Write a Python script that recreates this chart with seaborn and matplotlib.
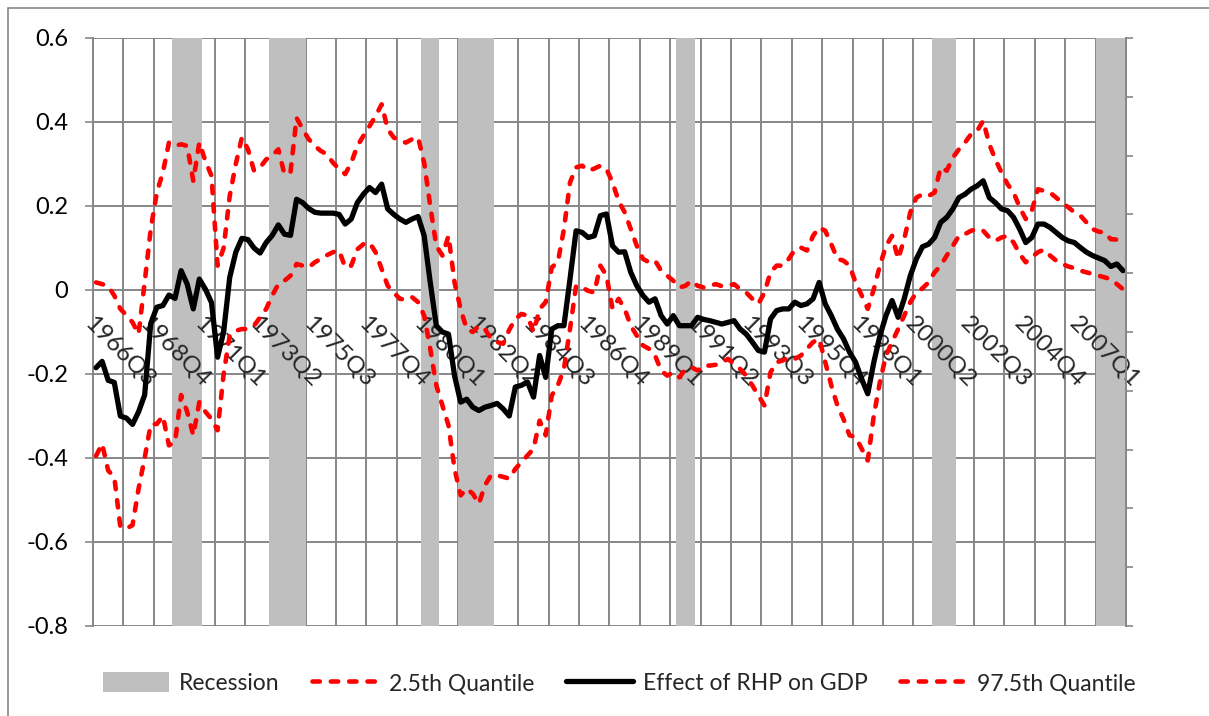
import numpy as np
import pandas as pd
import matplotlib.pyplot as plt
import seaborn as sns
from matplotlib.patches import Patch, Rectangle
from matplotlib.lines import Line2D
from matplotlib.ticker import FixedLocator, NullFormatter

# quarterly categories 1966Q3 .. 2008Q4 (170 quarters)
n_q = 170
quarters = [f"{1966 + (i + 2) // 4}Q{(i + 2) % 4 + 1}" for i in range(n_q)]

# effect of RHP on GDP (median)
effect = [
    -0.185, -0.17, -0.215, -0.22, -0.30, -0.305, -0.32, -0.29, -0.25, -0.08,
    -0.041, -0.037, -0.012, -0.02, 0.046, 0.014, -0.045, 0.026, 0.002, -0.03,
    -0.16, -0.10, 0.03, 0.09, 0.123, 0.12, 0.10, 0.088, 0.113, 0.13,
    0.155, 0.133, 0.13, 0.216, 0.208, 0.194, 0.185, 0.183, 0.183, 0.183,
    0.18, 0.157, 0.169, 0.208, 0.228, 0.244, 0.232, 0.252, 0.193, 0.18,
    0.169, 0.161, 0.169, 0.175, 0.129, 0.018, -0.085, -0.10, -0.105, -0.204,
    -0.267, -0.26, -0.279, -0.287, -0.279, -0.275, -0.27, -0.283, -0.30, -0.231,
    -0.227, -0.219, -0.255, -0.156, -0.208, -0.093, -0.085, -0.085, 0.026, 0.141,
    0.137, 0.125, 0.129, 0.177, 0.181, 0.105, 0.09, 0.091, 0.042, 0.01,
    -0.013, -0.029, -0.021, -0.061, -0.081, -0.061, -0.085, -0.085, -0.085, -0.065,
    -0.07, -0.073, -0.077, -0.081, -0.077, -0.073, -0.093, -0.105, -0.124, -0.144,
    -0.148, -0.069, -0.049, -0.045, -0.045, -0.029, -0.037, -0.033, -0.021, 0.018,
    -0.033, -0.061, -0.093, -0.116, -0.148, -0.172, -0.212, -0.247, -0.172, -0.109,
    -0.061, -0.025, -0.065, -0.021, 0.034, 0.074, 0.103, 0.109, 0.125, 0.161,
    0.173, 0.193, 0.22, 0.228, 0.24, 0.248, 0.26, 0.22, 0.208, 0.193,
    0.189, 0.173, 0.145, 0.113, 0.125, 0.157, 0.157, 0.149, 0.137, 0.125,
    0.117, 0.113, 0.101, 0.09, 0.082, 0.076, 0.07, 0.056, 0.062, 0.046,
]

# 97.5th quantile
upper = [
    0.018, 0.014, 0.009, -0.013, -0.045, -0.06, -0.077, -0.105, 0.018, 0.145,
    0.232, 0.28, 0.351, 0.343, 0.347, 0.343, 0.26, 0.351, 0.307, 0.272,
    0.058, 0.10, 0.224, 0.30, 0.363, 0.335, 0.284, 0.292, 0.311, 0.32,
    0.335, 0.276, 0.28, 0.41, 0.383, 0.359, 0.343, 0.331, 0.323, 0.303,
    0.288, 0.276, 0.303, 0.343, 0.367, 0.39, 0.414, 0.442, 0.383, 0.363,
    0.355, 0.351, 0.359, 0.363, 0.303, 0.20, 0.105, 0.082, 0.129, 0.018,
    -0.045, -0.093, -0.10, -0.085, -0.093, -0.116, -0.124, -0.128, -0.095, -0.069,
    -0.057, -0.061, -0.10, -0.045, -0.029, 0.054, 0.066, 0.145, 0.256, 0.292,
    0.296, 0.284, 0.289, 0.296, 0.288, 0.256, 0.212, 0.185, 0.145, 0.105,
    0.074, 0.066, 0.07, 0.046, 0.034, 0.022, 0.006, 0.01, 0.022, 0.01,
    0.006, 0.01, 0.014, 0.009, 0.01, 0.014, 0.002, -0.006, -0.021, -0.033,
    -0.006, 0.042, 0.058, 0.058, 0.074, 0.096, 0.101, 0.094, 0.129, 0.149,
    0.141, 0.109, 0.074, 0.07, 0.058, 0.018, -0.013, -0.045, 0.002, 0.058,
    0.105, 0.129, 0.074, 0.121, 0.185, 0.22, 0.228, 0.224, 0.232, 0.292,
    0.284, 0.315, 0.335, 0.351, 0.371, 0.379, 0.403, 0.347, 0.311, 0.28,
    0.252, 0.232, 0.197, 0.169, 0.189, 0.24, 0.236, 0.232, 0.22, 0.208,
    0.197, 0.185, 0.177, 0.161, 0.145, 0.139, 0.137, 0.121, 0.12, 0.109,
]

# 2.5th quantile
lower = [
    -0.395, -0.366, -0.43, -0.445, -0.564, -0.568, -0.56, -0.473, -0.40, -0.32,
    -0.319, -0.30, -0.37, -0.362, -0.25, -0.29, -0.346, -0.267, -0.29, -0.307,
    -0.334, -0.20, -0.108, -0.097, -0.093, -0.093, -0.085, -0.065, -0.045, -0.013,
    0.014, 0.022, 0.034, 0.062, 0.058, 0.054, 0.066, 0.074, 0.083, 0.09,
    0.094, 0.054, 0.058, 0.097, 0.109, 0.113, 0.09, 0.05, 0.01, -0.006,
    -0.021, -0.023, -0.017, -0.029, -0.061, -0.14, -0.227, -0.275, -0.322, -0.426,
    -0.489, -0.473, -0.485, -0.509, -0.465, -0.441, -0.441, -0.445, -0.449, -0.426,
    -0.41, -0.394, -0.378, -0.311, -0.346, -0.251, -0.227, -0.188, -0.093, 0.01,
    0.006, -0.002, -0.006, 0.058, 0.034, -0.045, -0.021, -0.045, -0.085, -0.109,
    -0.132, -0.14, -0.156, -0.192, -0.204, -0.196, -0.208, -0.188, -0.184, -0.192,
    -0.18, -0.18, -0.178, -0.172, -0.164, -0.176, -0.188, -0.204, -0.227, -0.251,
    -0.275, -0.196, -0.172, -0.168, -0.16, -0.164, -0.156, -0.14, -0.124, -0.116,
    -0.172, -0.227, -0.275, -0.307, -0.346, -0.35, -0.378, -0.406, -0.299, -0.219,
    -0.156, -0.124, -0.093, -0.061, -0.029, -0.006, 0.004, 0.018, 0.042, 0.058,
    0.082, 0.105, 0.129, 0.133, 0.141, 0.145, 0.141, 0.125, 0.117, 0.125,
    0.129, 0.113, 0.086, 0.066, 0.078, 0.09, 0.096, 0.082, 0.07, 0.062,
    0.056, 0.052, 0.046, 0.042, 0.038, 0.034, 0.03, 0.026, 0.014, 0.002,
]

# NBER recessions (first and last quarter)
recession_periods = [
    ("1969Q4", "1970Q4"), ("1973Q4", "1975Q1"), ("1980Q1", "1980Q3"),
    ("1981Q3", "1982Q4"), ("1990Q3", "1991Q1"), ("2001Q1", "2001Q4"),
    ("2007Q4", "2008Q4"),
]

y_ticks = [0.6, 0.4, 0.2, 0, -0.2, -0.4, -0.6, -0.8]
y_tick_labels = ["0.6", "0.4", "0.2", "0", "-0.2", "-0.4", "-0.6", "-0.8"]

assert len(effect) == len(upper) == len(lower) == n_q

idx = np.arange(n_q)
recession = np.zeros(n_q)
for a, b in recession_periods:
    recession[quarters.index(a):quarters.index(b) + 1] = 1

df = pd.DataFrame({"q": idx, "effect": effect, "upper": upper, "lower": lower})

sns.set_style("white")
plt.rcParams["font.family"] = ["Lato", "DejaVu Sans"]
grid_c = "#878787"
red_lw, black_lw = 3.3, 3.8
dash = [1.6, 2.4]

fig = plt.figure(figsize=(12.09, 7.16), dpi=100)
ax = fig.add_axes([93 / 1209, 1 - 626 / 716, (1126 - 93) / 1209, (626 - 38) / 716])
ax.set_axisbelow(True)

# vertical gridlines every 5 quarters, at category boundaries (below the bars)
boundaries = np.arange(-0.5, n_q, 5)
for b in boundaries:
    ax.axvline(b, color=grid_c, lw=1.4, zorder=0.5)

# recession bars (secondary 0..1 scale -> axes fraction)
ax.bar(idx, recession, width=1.0, bottom=0, color="#BFBFBF",
       transform=ax.get_xaxis_transform(), zorder=1, linewidth=0)

sns.lineplot(data=df, x="q", y="lower", ax=ax, color="#FF0000", lw=red_lw, estimator=None)
sns.lineplot(data=df, x="q", y="effect", ax=ax, color="black", lw=black_lw, estimator=None)
sns.lineplot(data=df, x="q", y="upper", ax=ax, color="#FF0000", lw=red_lw, estimator=None)
for ln in ax.lines:
    if ln.get_color() == "#FF0000":
        ln.set_dashes(dash)
        ln.set_dash_capstyle("round")
    ln.set_solid_joinstyle("round")
for ln in ax.lines[-3:]:
    ln.set_zorder(3)

ax.set_xlim(-0.5, n_q - 0.5)
ax.set_ylim(-0.8, 0.6)
ax.set_xlabel("")
ax.set_ylabel("")

# y axis
ax.set_yticks(y_ticks)
ax.set_yticklabels(y_tick_labels)
ax.tick_params(axis="y", direction="out", length=6, width=1.2, color=grid_c,
               pad=12, labelsize=17, labelcolor="black")
ax.yaxis.grid(True, color=grid_c, lw=1.4)

# category axis crossing at 0 (labels above bars, below lines)
label_pos = list(range(0, n_q, 9))
ax.xaxis.set_minor_locator(FixedLocator(boundaries))
ax.xaxis.set_minor_formatter(NullFormatter())
ax.tick_params(axis="x", which="major", length=0, pad=16, labelsize=17)
ax.tick_params(axis="x", which="minor", direction="out", length=5,
               width=1.2, color=grid_c)
ax.xaxis.grid(False)
ax.xaxis.set_zorder(1.5)
ax.spines["bottom"].set_position(("data", 0))
ax.spines["bottom"].set_visible(False)
ax.spines["top"].set_visible(False)
ax.spines["right"].set_visible(False)
ax.spines["left"].set_color(grid_c)
ax.spines["left"].set_linewidth(1.4)
ax.spines["left"].set_zorder(0.6)

# secondary axis for recession scale (ticks only)
ax2 = ax.twinx()
ax2.set_ylim(0, 1)
ax2.set_yticks(np.linspace(0, 1, 11))
ax2.yaxis.set_major_formatter(NullFormatter())
ax2.tick_params(axis="y", direction="out", length=5, width=1.2, color=grid_c)
for s in ("top", "bottom", "left"):
    ax2.spines[s].set_visible(False)
ax2.spines["right"].set_color(grid_c)
ax2.spines["right"].set_linewidth(1.4)
ax2.grid(False)

ax.set_xticks(label_pos)
ax.set_xticklabels([quarters[i] for i in label_pos])
plt.setp(ax.get_xticklabels(), rotation=-45, ha="left", va="top",
         rotation_mode="anchor", fontsize=17.5)

# legend
handles = [
    Patch(facecolor="#BFBFBF", edgecolor="none"),
    Line2D([], [], color="#FF0000", lw=red_lw, dashes=dash, dash_capstyle="round"),
    Line2D([], [], color="black", lw=black_lw),
    Line2D([], [], color="#FF0000", lw=red_lw, dashes=dash, dash_capstyle="round"),
]
labels = ["Recession", "2.5th Quantile", "Effect of RHP on GDP", "97.5th Quantile"]
fig.legend(handles, labels, loc="center", bbox_to_anchor=(619 / 1209, 1 - 683 / 716),
           ncol=4, frameon=False, fontsize=16.5, handlelength=2.9, handleheight=1.0,
           handletextpad=0.45, columnspacing=1.4)

# chart border
fig.add_artist(Rectangle((8 / 1209, -0.05), 1.1, 1 - 8 / 716 + 0.05,
                         transform=fig.transFigure, fill=False,
                         edgecolor=grid_c, lw=1.2))

fig.savefig("out.png", dpi=100)
